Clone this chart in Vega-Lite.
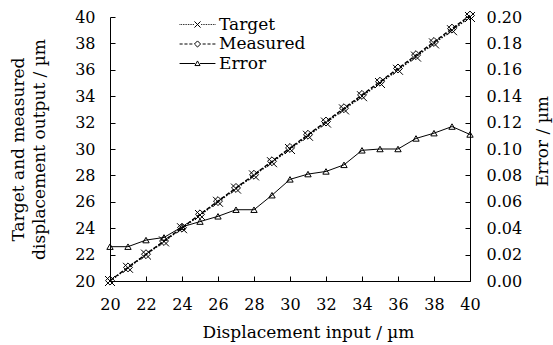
{
  "$schema": "https://vega.github.io/schema/vega-lite/v6.json",
  "width": 360,
  "height": 264,
  "autosize": {"type": "none"},
  "padding": {"left": 110, "top": 17, "right": 83, "bottom": 64},
  "background": "white",
  "config": {
    "font": "DejaVu Serif",
    "view": {"stroke": null},
    "axis": {
      "domainColor": "black", "tickColor": "black", "labelColor": "black", "titleColor": "black",
      "labelFontSize": 16, "titleFontSize": 17, "titleFontWeight": "normal", "grid": false,
      "labelFont": "DejaVu Serif", "titleFont": "DejaVu Serif",
      "domainWidth": 1, "tickWidth": 1, "labelFlush": false
    }
  },
  "data": {"values": [
    {"x": 20, "series": "Target", "value": 20}, {"x": 21, "series": "Target", "value": 21}, {"x": 22, "series": "Target", "value": 22},
    {"x": 23, "series": "Target", "value": 23}, {"x": 24, "series": "Target", "value": 24}, {"x": 25, "series": "Target", "value": 25},
    {"x": 26, "series": "Target", "value": 26}, {"x": 27, "series": "Target", "value": 27}, {"x": 28, "series": "Target", "value": 28},
    {"x": 29, "series": "Target", "value": 29}, {"x": 30, "series": "Target", "value": 30}, {"x": 31, "series": "Target", "value": 31},
    {"x": 32, "series": "Target", "value": 32}, {"x": 33, "series": "Target", "value": 33}, {"x": 34, "series": "Target", "value": 34},
    {"x": 35, "series": "Target", "value": 35}, {"x": 36, "series": "Target", "value": 36}, {"x": 37, "series": "Target", "value": 37},
    {"x": 38, "series": "Target", "value": 38}, {"x": 39, "series": "Target", "value": 39}, {"x": 40, "series": "Target", "value": 40},
    {"x": 20, "series": "Measured", "value": 20.03}, {"x": 21, "series": "Measured", "value": 21.03}, {"x": 22, "series": "Measured", "value": 22.03},
    {"x": 23, "series": "Measured", "value": 23.03}, {"x": 24, "series": "Measured", "value": 24.04}, {"x": 25, "series": "Measured", "value": 25.05},
    {"x": 26, "series": "Measured", "value": 26.05}, {"x": 27, "series": "Measured", "value": 27.05}, {"x": 28, "series": "Measured", "value": 28.05},
    {"x": 29, "series": "Measured", "value": 29.07}, {"x": 30, "series": "Measured", "value": 30.08}, {"x": 31, "series": "Measured", "value": 31.08},
    {"x": 32, "series": "Measured", "value": 32.08}, {"x": 33, "series": "Measured", "value": 33.09}, {"x": 34, "series": "Measured", "value": 34.1},
    {"x": 35, "series": "Measured", "value": 35.1}, {"x": 36, "series": "Measured", "value": 36.1}, {"x": 37, "series": "Measured", "value": 37.11},
    {"x": 38, "series": "Measured", "value": 38.11}, {"x": 39, "series": "Measured", "value": 39.12}, {"x": 40, "series": "Measured", "value": 40.11},
    {"x": 20, "series": "Error", "value": 0.026}, {"x": 21, "series": "Error", "value": 0.026}, {"x": 22, "series": "Error", "value": 0.031},
    {"x": 23, "series": "Error", "value": 0.033}, {"x": 24, "series": "Error", "value": 0.041}, {"x": 25, "series": "Error", "value": 0.045},
    {"x": 26, "series": "Error", "value": 0.049}, {"x": 27, "series": "Error", "value": 0.054}, {"x": 28, "series": "Error", "value": 0.054},
    {"x": 29, "series": "Error", "value": 0.065}, {"x": 30, "series": "Error", "value": 0.077}, {"x": 31, "series": "Error", "value": 0.081},
    {"x": 32, "series": "Error", "value": 0.083}, {"x": 33, "series": "Error", "value": 0.088}, {"x": 34, "series": "Error", "value": 0.099},
    {"x": 35, "series": "Error", "value": 0.1}, {"x": 36, "series": "Error", "value": 0.1}, {"x": 37, "series": "Error", "value": 0.108},
    {"x": 38, "series": "Error", "value": 0.112}, {"x": 39, "series": "Error", "value": 0.117}, {"x": 40, "series": "Error", "value": 0.111}
  ]},
  "encoding": {
    "x": {
      "field": "x", "type": "quantitative",
      "scale": {"domain": [20, 40], "nice": false, "zero": false},
      "axis": {
        "title": "Displacement input / µm",
        "values": [20, 22, 24, 26, 28, 30, 32, 34, 36, 38, 40],
        "tickSize": -5, "labelPadding": 20, "labelFlush": false,
        "titleX": 198, "titleY": 51, "titleBaseline": "middle", "titleAlign": "center"
      }
    }
  },
  "layer": [
    {
      "encoding": {
        "y": {
          "field": "value", "type": "quantitative",
          "scale": {"domain": [20, 40], "nice": false, "zero": false},
          "axis": {
            "orient": "left",
            "title": ["Target and measured", "displacement output / µm"],
            "values": [20, 22, 24, 26, 28, 30, 32, 34, 36, 38, 40],
            "tickSize": -5, "labelPadding": 20, "labelFlush": false,
            "titleX": -92, "titleY": 132, "titleAngle": 270,
            "titleBaseline": "middle", "titleAlign": "center", "titleLineHeight": 21
          }
        }
      },
      "layer": [
        {
          "transform": [{"filter": "datum.series === 'Target'"}],
          "mark": {"type": "line", "color": "black", "strokeWidth": 1.5, "strokeDash": [1.5, 1.5]}
        },
        {
          "transform": [{"filter": "datum.series === 'Measured'"}],
          "mark": {"type": "line", "color": "black", "strokeWidth": 1.4, "strokeDash": [4, 2]}
        },
        {
          "transform": [{"filter": "datum.series === 'Target'"}],
          "mark": {"type": "point", "shape": "M-1,-1L1,1M-1,1L1,-1", "size": 100, "color": "black", "strokeWidth": 1, "filled": false, "opacity": 1}
        },
        {
          "transform": [{"filter": "datum.series === 'Measured'"}],
          "mark": {"type": "point", "shape": "diamond", "size": 80, "color": "black", "strokeWidth": 1, "filled": false, "opacity": 1}
        },
        {
          "transform": [{"filter": "datum.x == 20"}],
          "mark": {"type": "point", "size": 105, "color": "black", "strokeWidth": 1, "filled": false, "opacity": 0},
          "encoding": {
            "y": {
              "field": "x", "type": "quantitative",
              "scale": {"domain": [20, 40], "nice": false, "zero": false},
              "axis": {
                "orient": "left",
                "title": ["Target and measured", "displacement output / µm"],
                "values": [20, 22, 24, 26, 28, 30, 32, 34, 36, 38, 40],
                "tickSize": -5, "labelPadding": 20, "labelFlush": false,
                "titleX": -92, "titleY": 132, "titleAngle": 270,
                "titleBaseline": "middle", "titleAlign": "center", "titleLineHeight": 21
              }
            },
            "shape": {
              "field": "series", "type": "nominal",
              "scale": {
                "domain": ["Target", "Measured", "Error"],
                "range": [
                  "M-3.5,0L-3.34,0M-3.17,0L-3.01,0M-2.84,0L-2.68,0M-2.51,0L-2.35,0M-2.18,0L-2.02,0M-1.85,0L-1.69,0M-1.52,0L-1.36,0M-1.19,0L-1.03,0M-0.86,0L-0.7,0M0.7,0L0.86,0M1.03,0L1.19,0M1.36,0L1.52,0M1.69,0L1.85,0M2.02,0L2.18,0M2.35,0L2.51,0M2.68,0L2.84,0M3.01,0L3.17,0M3.34,0L3.5,0M-0.6,-0.6L0.6,0.6M-0.6,0.6L0.6,-0.6",
                  "M-3.5,0L-2.9,0M-2.55,0L-1.95,0M-1.6,0L-1,0M-0.6,0L0,-0.6L0.6,0L0,0.6ZM1,0L1.6,0M1.95,0L2.55,0M2.9,0L3.5,0",
                  "M-3.5,0L-0.5,0M0.5,0L3.5,0M0,-0.5L0.5,0.4L-0.5,0.4Z"
                ]
              },
              "legend": {
                "title": null, "orient": "none", "legendX": 79, "legendY": -1,
                "symbolSize": 105, "labelFontSize": 17, "labelFont": "DejaVu Serif", "labelColor": "black",
                "labelOffset": 13, "rowPadding": 1.5, "padding": 0,
                "symbolStrokeColor": "black", "symbolStrokeWidth": 1, "symbolFillColor": "transparent", "symbolOpacity": 1,
                "encode": {"symbols": {"update": {"opacity": {"value": 1}, "stroke": {"value": "black"}, "fill": {"value": "transparent"}}}}
              }
            }
          }
        }
      ]
    },
    {
      "transform": [{"filter": "datum.series === 'Error'"}],
      "encoding": {
        "y": {
          "field": "value", "type": "quantitative",
          "scale": {"domain": [0, 0.2], "nice": false, "zero": false},
          "axis": {
            "orient": "right",
            "title": "Error / µm",
            "values": [0, 0.02, 0.04, 0.06, 0.08, 0.1, 0.12, 0.14, 0.16, 0.18, 0.2],
            "format": ".2f",
            "tickSize": -5, "labelPadding": 21, "labelFlush": false,
            "titleX": 72, "titleY": 124, "titleAngle": 270,
            "titleBaseline": "middle", "titleAlign": "center"
          }
        }
      },
      "layer": [
        {"mark": {"type": "line", "color": "black", "strokeWidth": 1}},
        {"mark": {"type": "point", "shape": "triangle-up", "size": 40, "color": "black", "strokeWidth": 1, "filled": false, "opacity": 1}}
      ]
    }
  ],
  "resolve": {"scale": {"y": "independent"}}
}
